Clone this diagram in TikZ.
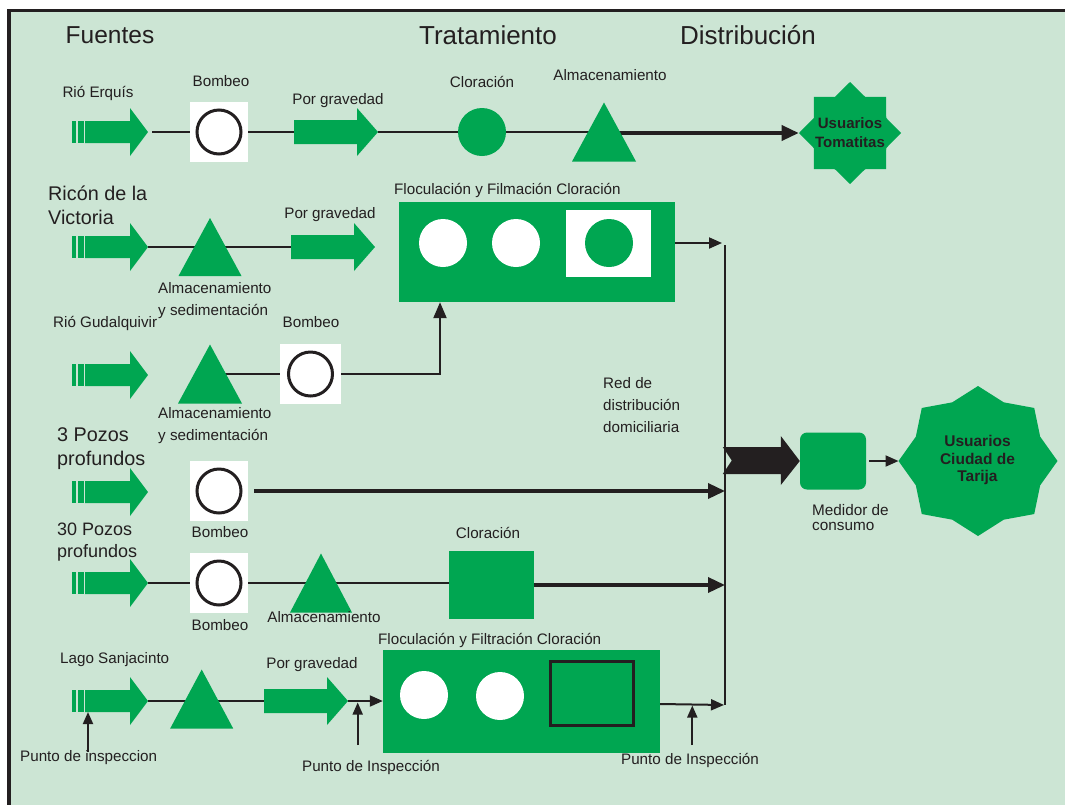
\documentclass[tikz,border=0pt]{standalone}
\usepackage{fontspec}
\setmainfont{Liberation Sans}
\usetikzlibrary{shapes.geometric,arrows.meta}
\definecolor{paper}{HTML}{CCE5D4}
\definecolor{leaf}{HTML}{00A651}
\definecolor{ink}{HTML}{231F20}
\pgfdeclarelayer{ground}
\pgfdeclarelayer{wires}
\pgfsetlayers{ground,wires,main}

\tikzset{
  lbl/.style={font=\fontsize{15.2}{22}\selectfont, text=ink, inner sep=0, align=left},
  biglbl/.style={font=\fontsize{19.8}{24}\selectfont, text=ink, inner sep=0, align=left},
  ttl/.style={font=\fontsize{26}{30}\selectfont, text=ink, inner sep=0},
  pump/.style={fill=white, inner sep=0, minimum width=58pt, minimum height=60pt,
    path picture={\draw[ink, line width=3pt] (path picture bounding box.center) circle (22pt);}},
  tank/.style={inner sep=0, minimum width=64pt, minimum height=59pt,
    path picture={\fill[leaf] (path picture bounding box.south west) -- (path picture bounding box.north) -- (path picture bounding box.south east) -- cycle;}},
  disc/.style={circle, inner sep=0, minimum size=48pt, fill=#1},
  plant/.style={fill=leaf, inner sep=0},
  users/.style={star, star points=8, star point ratio=1.3, fill=leaf, inner sep=0},
  userlbl/.style={font=\bfseries\fontsize{15}{19}\selectfont, text=ink, inner sep=0, align=center},
  wire/.style={draw=ink, line width=1.8pt},
  hair/.style={draw=ink, line width=1.2pt},
  feed/.style={draw=ink, line width=2pt, -{Triangle[length=13pt,width=11pt]}},
  trunk/.style={draw=ink, line width=3.5pt, -{Triangle[length=17pt,width=15pt]}},
  probe/.style={draw=ink, line width=1.8pt, -{Triangle[length=12pt,width=10pt]}},
  % water source: two stripes and a fat arrow, origin at the tip
  src/.pic={
    \fill[leaf] (-76,-11) rectangle (-72.5,11);
    \fill[leaf] (-70,-11) rectangle (-64,11);
    \fill[leaf] (-63,-11) -- (-18,-11) -- (-18,-24) -- (0,0) -- (-18,24) -- (-18,11) -- (-63,11) -- cycle;
    \coordinate (-tip) at (0,0);
    \coordinate (-foot) at (-60,11);
  },
  % gravity flow arrow, origin at the tip
  grav/.pic={
    \fill[leaf] (-84,-12) -- (-21,-12) -- (-21,-24) -- (0,0) -- (-21,24) -- (-21,12) -- (-84,12) -- cycle;
    \coordinate (-tip) at (0,0);
    \coordinate (-tail) at (-84,0);
  },
}

\begin{document}
\begin{tikzpicture}[x=1pt,y=-1pt]
\useasboundingbox (0,0) rectangle (1065,804);
\clip (0,0) rectangle (1065,804);
\begin{pgfonlayer}{ground}
  \fill[white] (0,0) rectangle (1065,804);
  \draw[ink, fill=paper, line width=3.3pt] (9,10.5) rectangle (1090,830);
\end{pgfonlayer}

% column titles
\node[ttl, font=\fontsize{24.5}{30}\selectfont] (tf) at (110,35) {Fuentes};
\node[ttl] (tt) at (488,35) {Tratamiento};
\node[ttl] (td) at (748,35) {Distribución};

% ---- Rió Erquís
\pic (s1) at (148,132) {src};
\node[lbl] (l1) at (98,93) {Rió Erquís};
\node[pump] (p1) at (219,132) {};
\node[lbl] (l1b) at (221,81) {Bombeo};
\pic (g1) at (378,132) {grav};
\node[lbl] (l1g) at (338,101) {Por gravedad};
\node[disc=leaf] (c1) at (482,132) {};
\node[lbl] (l1c) at (482,82) {Cloración};
\node[tank] (a1) at (604,132) {};
\node[lbl] (l1a) at (610,75) {Almacenamiento};
\node[users, minimum size=102pt] (u1) at (850,133) {};
\node[userlbl] (u1t) at (850,133) {Usuarios\\Tomatitas};
\begin{pgfonlayer}{wires}
  \draw[wire] ([xshift=4pt]s1-tip) -- (p1);
  \draw[wire] (p1) -- (g1-tail);
  \draw[wire] (g1-tip) -- (c1);
  \draw[wire] (c1) -- (a1.center);
  \draw[trunk] (a1.center |- u1.west) -- (u1.west);
\end{pgfonlayer}

% ---- Ricón de la Victoria
\node[biglbl, anchor=west] (l2) at (48,205) {Ricón de la\\Victoria};
\pic (s2) at (148,247) {src};
\node[tank, minimum width=63pt, minimum height=58pt] (a2) at (210,247) {};
\node[lbl, anchor=west] (l2a) at (158,301) {Almacenamiento\\y sedimentación};
\pic (g2) at (375,247) {grav};
\node[lbl] (l2g) at (330,215) {Por gravedad};
\node[plant, minimum width=276pt, minimum height=100pt] (f1) at (537,252) {};
\node[lbl, anchor=west] (l2f) at (394,190) {Floculación y Filmación Cloración};
\node[disc=white] (w1) at (443,243) {};
\node[disc=white] (w2) at (516,243) {};
\node[fill=white, inner sep=0, minimum width=85pt, minimum height=67pt] (q1) at (608.5,243.5) {};
\node[disc=leaf] (c2) at (609,243) {};
\coordinate (bustop) at (725,245);
\coordinate (busbot) at (725,705);
\begin{pgfonlayer}{wires}
  \draw[hair] (s2-tip) -- (g2-tail);
  \draw[feed, shorten >=3pt] (f1.east |- w1) -- (bustop |- w1);
  \draw[ink, line width=2.5pt] (bustop) -- (busbot);
\end{pgfonlayer}

% ---- Rió Gudalquivir
\node[lbl, anchor=west] (l3) at (53,323) {Rió Gudalquivir};
\pic (s3) at (148,375) {src};
\node[tank] (a3) at (210,374) {};
\node[lbl, anchor=west] (l3a) at (158,426) {Almacenamiento\\y sedimentación};
\node[pump, minimum width=61pt] (p3) at (310.5,374) {};
\node[lbl] (l3b) at (311,322) {Bombeo};
\coordinate (j3) at (440,374);
\begin{pgfonlayer}{wires}
  \draw[wire] (a3.center) -- (p3);
  \draw[feed, line width=2.2pt, -{Triangle[length=16pt,width=13pt]}] (p3.east) -- (j3) -- (j3 |- f1.south);
\end{pgfonlayer}

\node[lbl, anchor=west] (red) at (603,405) {Red de\\distribución\\domiciliaria};

% ---- 3 Pozos profundos
\node[biglbl, anchor=west] (l4) at (57,449) {3 Pozos\\profundos};
\pic (s4) at (148,492) {src};
\node[pump] (p4) at (219,491) {};
\node[lbl] (l4b) at (220,532) {Bombeo};
\begin{pgfonlayer}{wires}
  \draw[trunk] ([xshift=6pt]p4.east) -- (busbot |- p4.east);
\end{pgfonlayer}

% ---- delivery to the city
\node[fill=leaf, rounded corners=7pt, inner sep=0, minimum width=66pt, minimum height=57pt] (m1) at (833,461) {};
\fill[ink] (m1.west) -- ++(-19,-25) -- ++(0,11) -- ++(-58,0) -- ++(9,13.5) -- ++(-9,13.5) -- ++(58,0) -- ++(0,11) -- cycle;
\node[lbl, anchor=north west, font=\fontsize{15.3}{15}\selectfont] (l5m) at (812,504) {Medidor de\\consumo};
% eight-pointed star of the city users
\coordinate (u2) at (978,461);
\coordinate (u2w) at (898.5,461);
\fill[leaf, shift={(u2)}, xscale=1.06]
  (0:75) -- (22.5:63.5) -- (45:75) -- (67.5:63.5) -- (90:75) -- (112.5:63.5) -- (135:75) -- (157.5:63.5)
  -- (180:75) -- (202.5:63.5) -- (225:75) -- (247.5:63.5) -- (270:75) -- (292.5:63.5) -- (315:75) -- (337.5:63.5) -- cycle;
\node[userlbl, font=\bfseries\fontsize{15.5}{17.7}\selectfont] (u2t) at (977.5,460) {Usuarios\\Ciudad de\\Tarija};
\draw[feed] ([xshift=3pt]m1.east) -- (u2w);

% ---- 30 Pozos profundos
\node[biglbl, anchor=west, font=\fontsize{18}{22}\selectfont] (l5) at (57,542) {30 Pozos\\profundos};
\pic (s5) at (148,583) {src};
\node[pump] (p5) at (219,583) {};
\node[lbl] (l5b) at (220,625) {Bombeo};
\node[tank, minimum width=62pt] (a5) at (321,583) {};
\node[lbl] (l5a) at (324,617) {Almacenamiento};
\node[plant, minimum width=85pt, minimum height=68pt] (q5) at (491.5,585) {};
\node[lbl] (l5c) at (488,533) {Cloración};
\begin{pgfonlayer}{wires}
  \draw[wire] (s5-tip) -- (p5);
  \draw[wire] (p5.east) -- (q5.west |- p5.east);
  \draw[trunk] (q5.east) -- (busbot |- q5.east);
\end{pgfonlayer}

% ---- Lago Sanjacinto
\node[lbl, anchor=west] (l6) at (60,660) {Lago Sanjacinto};
\pic (s6) at (148,701) {src};
\node[tank, minimum width=63pt] (a6) at (201.7,699) {};
\pic (g6) at (348,701) {grav};
\node[lbl] (l6g) at (312,665) {Por gravedad};
\node[plant, minimum width=277pt, minimum height=103pt] (f2) at (521.5,701.5) {};
\node[lbl, anchor=west] (l6f) at (378,640) {Floculación y Filtración Cloración};
\node[disc=white] (w3) at (424,695) {};
\node[disc=white] (w4) at (500,696) {};
\node[draw=ink, line width=3pt, fill=leaf, inner sep=0, minimum width=83pt, minimum height=64pt] (q6) at (592,693.5) {};
\node[lbl, anchor=west] (i1) at (20,758) {Punto de inspeccion};
\node[lbl] (i2) at (371,767) {Punto de Inspección};
\node[lbl] (i3) at (690,760) {Punto de Inspección};
\coordinate (k1) at (88,752);
\coordinate (k2) at (357.7,701);
\coordinate (k2b) at (357.7,745);
\coordinate (k3) at (692.3,704);
\coordinate (k3b) at (692.3,745);
\begin{pgfonlayer}{wires}
  \draw[wire] (s6-tip) -- (g6-tail);
  \draw[feed] (g6-tip) -- (f2.west |- g6-tip);
  \draw[feed, shorten >=1pt] (f2.east |- k3) -- (busbot);
\end{pgfonlayer}
\draw[probe] (k1) -- (s6-foot);
\draw[probe, shorten >=1.5pt] (k2b) -- (k2);
\draw[probe, shorten >=1.5pt] (k3b) -- (k3);
\end{tikzpicture}
\end{document}
